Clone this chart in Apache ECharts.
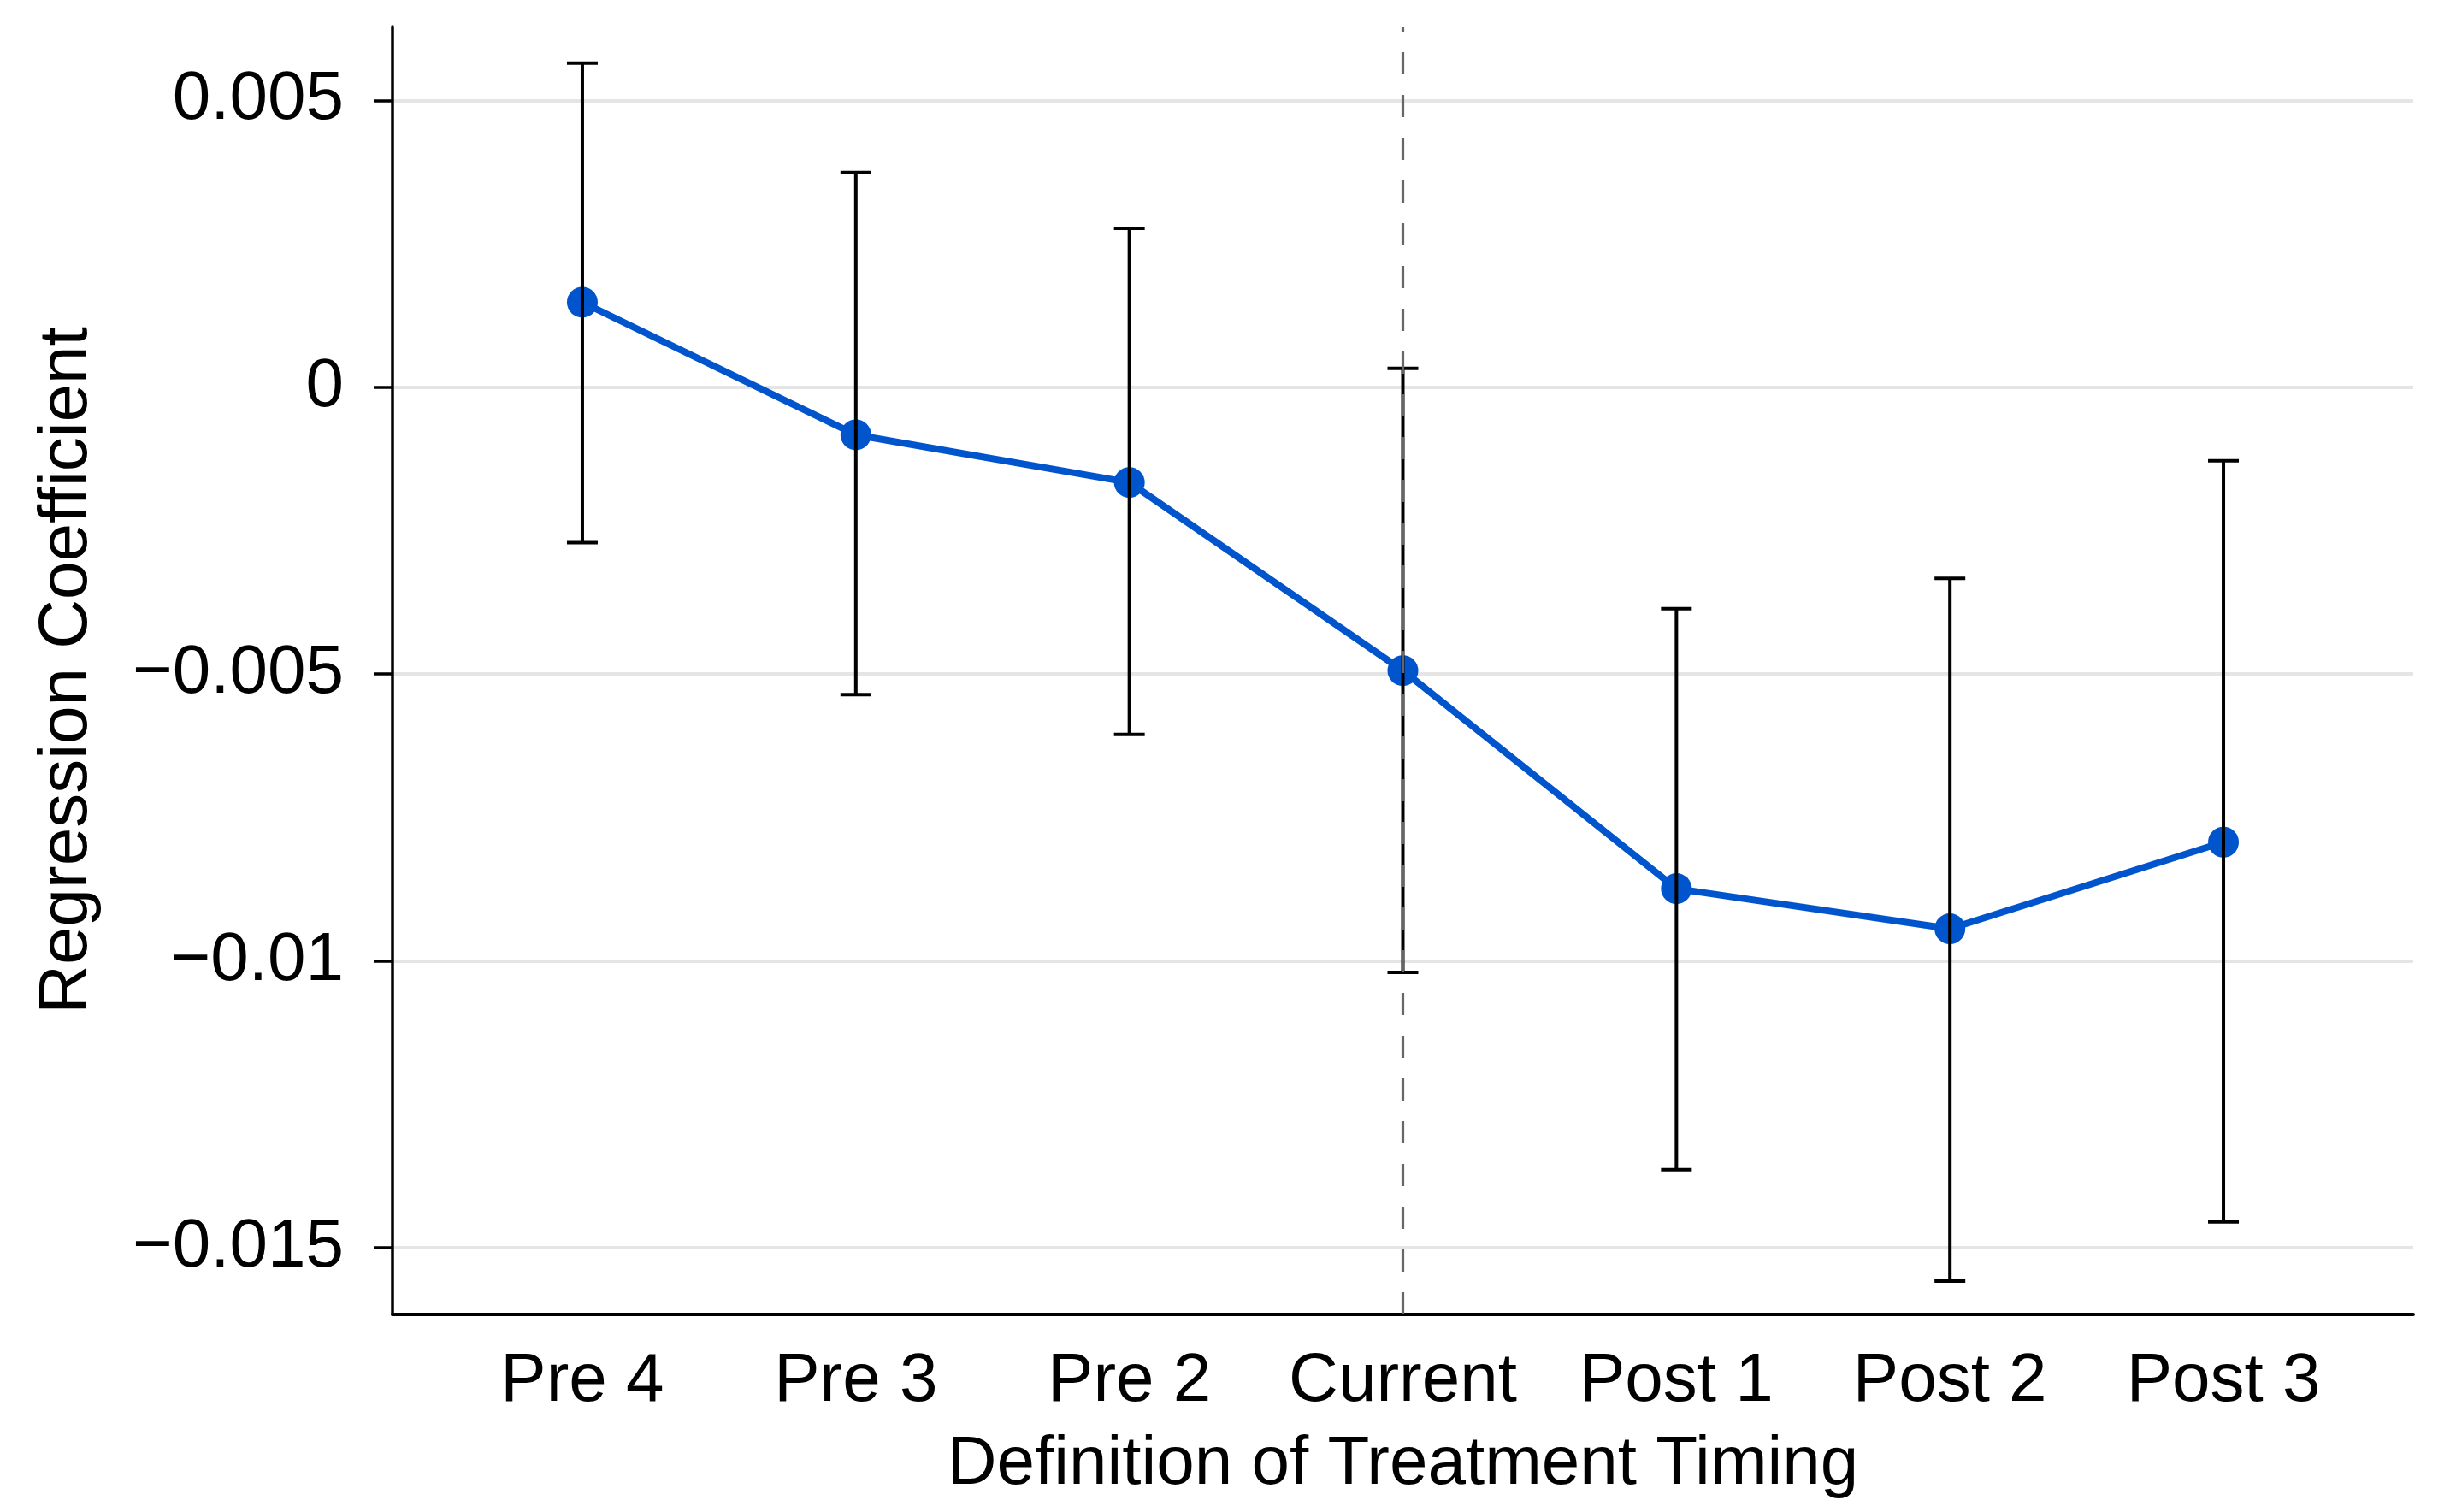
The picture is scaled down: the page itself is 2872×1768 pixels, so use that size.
<!DOCTYPE html>
<html><head><meta charset="utf-8">
<script src="https://cdn.jsdelivr.net/npm/echarts@6/dist/echarts.min.js"></script>
<style>html,body{margin:0;padding:0;background:#fff}#c{width:2872px;height:1768px}</style>
</head><body><div id="c"></div><script>
const categories = ['Pre 4', 'Pre 3', 'Pre 2', 'Current', 'Post 1', 'Post 2', 'Post 3'];
const coefficients = [0.00148, -0.00083, -0.00166, -0.00494, -0.00874, -0.00944, -0.00793];
const ciUpper = [0.00565, 0.00374, 0.00277, 0.00033, -0.00386, -0.00333, -0.00128];
const ciLower = [-0.00271, -0.00536, -0.00605, -0.0102, -0.01364, -0.01558, -0.01455];
const yTicks = [-0.015, -0.01, -0.005, 0, 0.005];
const xTicks = [0, 1, 2, 3, 4, 5, 6];
const treatmentIndex = 3;

const FONT = '"Liberation Sans", Arial, Helvetica, sans-serif';
const fmtY = v => (v < 0 ? '\u2212' : '') + parseFloat(Math.abs(v).toPrecision(6));

const chart = echarts.init(document.getElementById('c'), null, {renderer: 'canvas'});
chart.setOption({
  animation: false,
  backgroundColor: '#fff',
  grid: {left: 459, right: 50, top: 31, bottom: 231, containLabel: false, outerBoundsMode: 'none'},
  xAxis: {
    type: 'value', min: -0.694, max: 6.694,
    axisLine: {show: true, onZero: false, lineStyle: {color: '#000', width: 4}},
    axisTick: {show: false},
    splitLine: {show: false},
    axisLabel: {customValues: xTicks, formatter: v => categories[Math.round(v)], fontSize: 80, color: '#000', margin: 39, fontFamily: FONT},
    name: 'Definition of Treatment Timing', nameLocation: 'middle', nameGap: 136,
    nameTextStyle: {fontSize: 80, color: '#000', fontFamily: FONT}
  },
  yAxis: {
    type: 'value', min: -0.016162, max: 0.006287,
    axisLine: {show: true, onZero: false, lineStyle: {color: '#000', width: 3.5}},
    axisTick: {show: true, customValues: yTicks, length: 22, lineStyle: {color: '#000', width: 3.5}},
    axisLabel: {customValues: yTicks, formatter: fmtY, fontSize: 80, color: '#000', margin: 57, fontFamily: FONT},
    splitLine: {show: true, lineStyle: {color: '#e5e5e5', width: 4}},
    name: 'Regression Coefficient', nameLocation: 'middle', nameGap: 340,
    nameTextStyle: {fontSize: 80, color: '#000', fontFamily: FONT}
  },
  series: [
    {
      type: 'line',
      data: coefficients.map((v, i) => [i, v]),
      symbol: 'circle', symbolSize: 36,
      itemStyle: {color: '#0055CC'},
      lineStyle: {color: '#0055CC', width: 8},
      z: 2,
      markLine: {
        silent: true, symbol: 'none', label: {show: false},
        lineStyle: {type: [26, 24], color: '#666', width: 3.2},
        data: [{xAxis: treatmentIndex}]
      }
    },
    {
      type: 'custom',
      data: categories.map((c, i) => [i, ciLower[i], ciUpper[i]]),
      encode: {x: 0, y: [1, 2]},
      z: 3,
      renderItem: function (params, api) {
        const x = api.value(0);
        const lo = api.coord([x, api.value(1)]);
        const hi = api.coord([x, api.value(2)]);
        const cap = 18;
        const st = {stroke: '#000', lineWidth: 4};
        return {type: 'group', children: [
          {type: 'line', shape: {x1: lo[0], y1: lo[1], x2: hi[0], y2: hi[1]}, style: st},
          {type: 'line', shape: {x1: hi[0] - cap, y1: hi[1], x2: hi[0] + cap, y2: hi[1]}, style: st},
          {type: 'line', shape: {x1: lo[0] - cap, y1: lo[1], x2: lo[0] + cap, y2: lo[1]}, style: st}
        ]};
      }
    }
  ]
});
</script></body></html>
